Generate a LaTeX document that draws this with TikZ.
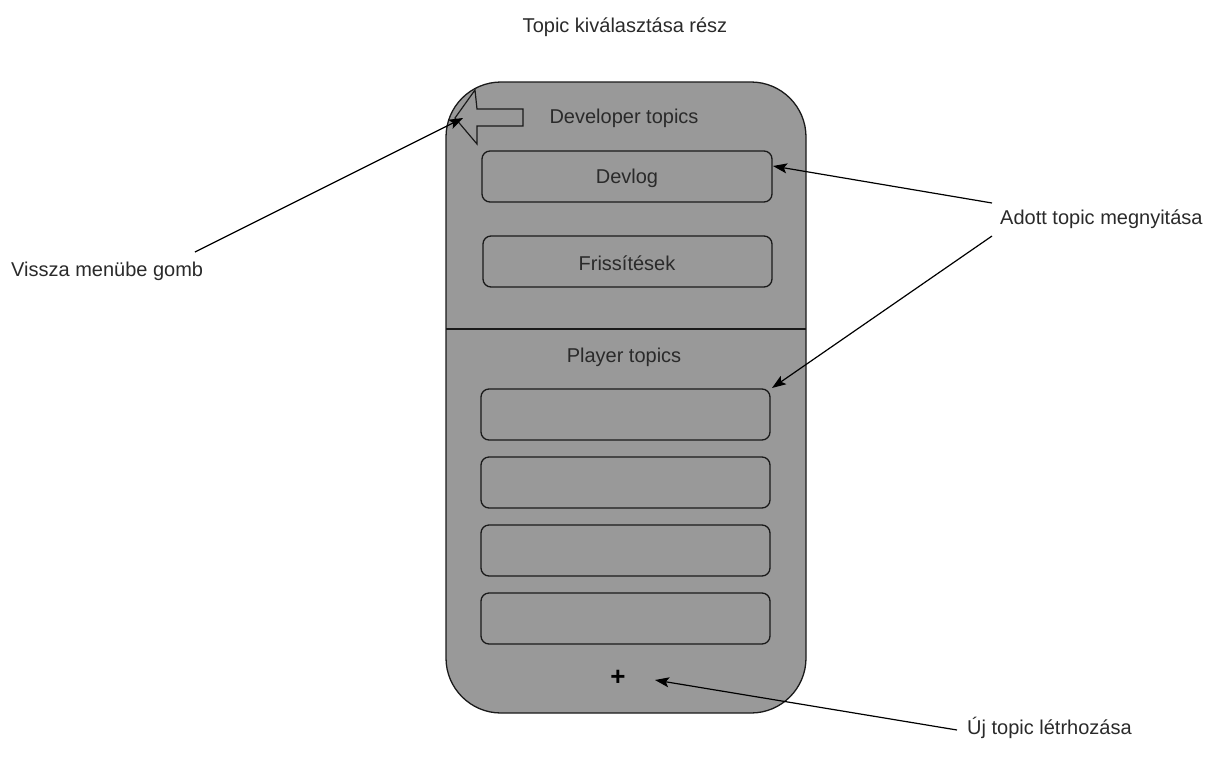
\documentclass[tikz,border=0pt]{standalone}
\usepackage{fontspec}
\setmainfont{Liberation Sans}
\usetikzlibrary{arrows.meta}
\definecolor{phonefill}{HTML}{999999}
\definecolor{txt}{HTML}{2A2A2A}
\definecolor{edge}{HTML}{1A1A1A}
\begin{document}
\begin{tikzpicture}[x=1pt,y=-1pt,
  lbl/.style={font=\fontsize{20}{23}\selectfont, text=txt, inner sep=0pt},
  itembox/.style={draw=edge, line width=1.3pt, rounded corners=8pt},
  pointer/.style={draw=black, line width=1.2pt, -{Stealth[length=14pt,width=10pt,inset=3pt]}}]
\useasboundingbox (0,0) rectangle (1224,756);
% phone
\draw[fill=phonefill, draw=edge, line width=1.3pt, rounded corners=55pt] (446,82) rectangle (806,713);
\draw[draw=edge, line width=1.3pt] (446,329) -- (806,329);
% back arrow
\draw[draw=edge, line width=1.2pt, line join=miter] (455,118) -- (475,90) -- (477,109) -- (523,109) -- (523,126) -- (477,126) -- (477,144) -- cycle;
% title
\node[lbl] (title) at (625,27) {Topic kiválasztása rész};
\node[lbl] (devhdr) at (624,118) {Developer topics};
% developer boxes
\draw[itembox] (482,151) rectangle (772,202);
\node[lbl] (devlog) at (627,178) {Devlog};
\draw[itembox] (483,236) rectangle (772,287);
\node[lbl] (friss) at (627,263) {Frissítések};
\node[lbl] (playhdr) at (624,357) {Player topics};
% player boxes
\draw[itembox] (481,389) rectangle (770,440);
\draw[itembox] (481,457) rectangle (770,508);
\draw[itembox] (481,525) rectangle (770,576);
\draw[itembox] (481,593) rectangle (770,644);
\node[font=\fontsize{26}{28}\selectfont\bfseries, text=black, inner sep=0pt] (plus) at (618,678) {+};
% annotation labels
\node[lbl, anchor=west] (vissza) at (11,271) {Vissza menübe gomb};
\node[lbl, anchor=west] (adott) at (1000,219) {Adott topic megnyitása};
\node[lbl, anchor=west] (uj) at (967,728) {Új topic létrhozása};
% pointer ends
\coordinate (vstart) at (195,252);
\coordinate (vtip) at (463,118);
\coordinate (a1start) at (992,203);
\coordinate (a1tip) at (773,166);
\coordinate (a2start) at (992,236);
\coordinate (a2tip) at (772,388);
\coordinate (ustart) at (957,730);
\coordinate (utip) at (655,680);
\draw[pointer] (vstart) -- (vtip);
\draw[pointer] (a1start) -- (a1tip);
\draw[pointer] (a2start) -- (a2tip);
\draw[pointer] (ustart) -- (utip);
\end{tikzpicture}
\end{document}
